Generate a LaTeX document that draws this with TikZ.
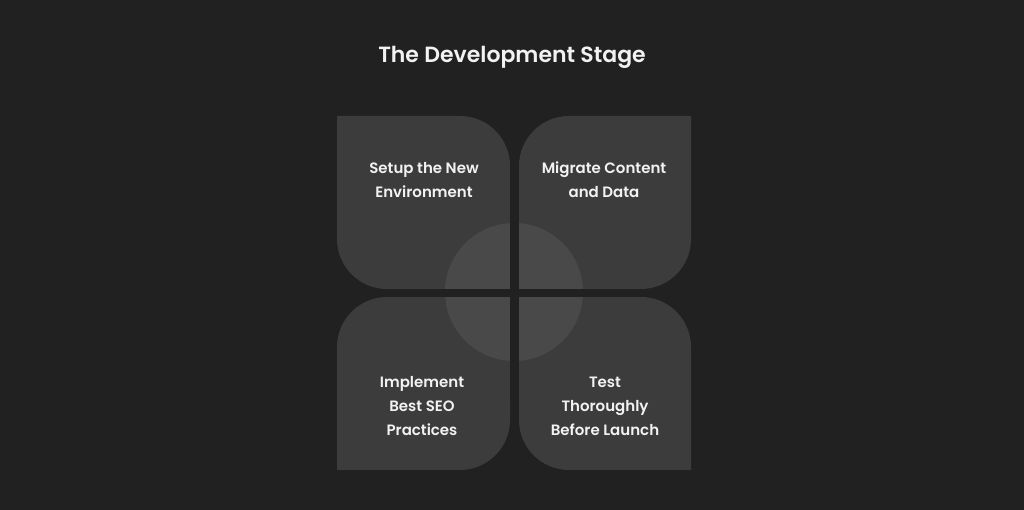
\documentclass[tikz,border=0pt]{standalone}
\usepackage{fontspec}
\setmainfont{Poppins}[BoldFont=Poppins SemiBold]
\definecolor{bg}{HTML}{212121}
\definecolor{tilec}{HTML}{3C3C3C}
\definecolor{circc}{HTML}{494949}
\definecolor{txt}{HTML}{F2F2F2}
\newcommand\mytile[8]{%
 \fill[tilec] (#1+#5,510-#2) -- (#3-#6,510-#2) arc[start angle=90,end angle=0,radius=#6] -- (#3,510-#4+#7) arc[start angle=0,end angle=-90,radius=#7] -- (#1+#8,510-#4) arc[start angle=-90,end angle=-180,radius=#8] -- (#1,510-#2-#5) arc[start angle=180,end angle=90,radius=#5] -- cycle;}
\begin{document}
\begin{tikzpicture}[x=1pt,y=1pt,lbl/.style={text=txt,font=\bfseries\fontsize{15}{24}\selectfont,align=center}]
\fill[bg] (0,0) rectangle (1024,510);
\useasboundingbox (0,0) rectangle (1024,510);
\node[text=txt,font=\bfseries\fontsize{22}{26}\selectfont] (title) at (512,453) {The Development Stage};
\mytile{337}{116}{510}{289}{0.01}{50}{0.01}{50}
\mytile{519}{116}{691}{289}{50}{0.01}{50}{0.01}
\mytile{337}{297}{510}{470}{50}{0.01}{50}{0.01}
\mytile{519}{297}{691}{470}{0.01}{50}{0.01}{50}
\fill[circc] (514,218) circle[radius=69];
\fill[bg] (510,110) rectangle (519,400);
\fill[bg] (330,213) rectangle (700,221);
\node[lbl] (a) at (424,330) {Setup the New\\Environment};
\node[lbl] (b) at (604,330) {Migrate Content\\and Data};
\node[lbl] (c) at (422,104) {Implement\\Best SEO\\Practices};
\node[lbl] (d) at (605,104) {Test\\Thoroughly\\Before Launch};
\end{tikzpicture}
\end{document}
